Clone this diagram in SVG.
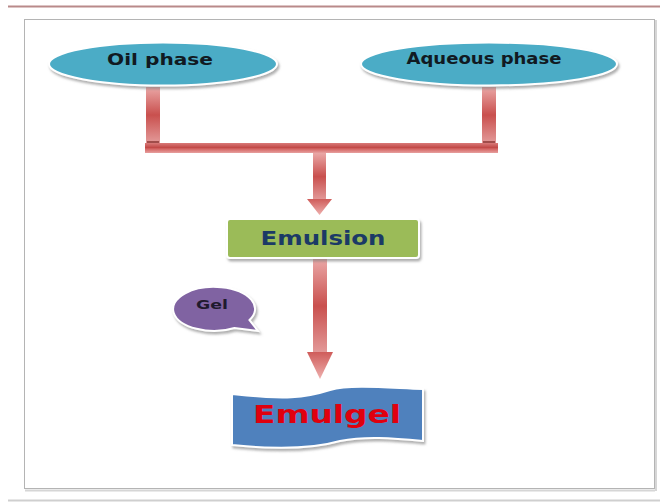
<svg xmlns="http://www.w3.org/2000/svg" width="660" height="504" viewBox="0 0 660 504">
<style>
  .lbl { font-family: "DejaVu Sans", "Liberation Sans", sans-serif; font-weight: bold; text-anchor: middle; }
  .shape { stroke: #ffffff; stroke-width: 2; filter: url(#sh); }
  .bar { fill: url(#barV); }
</style>
<defs>
  <filter id="sh" x="-20%" y="-30%" width="140%" height="170%">
    <feDropShadow dx="1.5" dy="2.5" stdDeviation="1.2" flood-color="#7a7a7a" flood-opacity="0.6"/>
  </filter>
  <linearGradient id="barV" x1="0" y1="0" x2="0" y2="1">
    <stop offset="0" stop-color="#eaa7a6"/>
    <stop offset="0.5" stop-color="#c9504e"/>
    <stop offset="1" stop-color="#e39a99"/>
  </linearGradient>
  <linearGradient id="barH" x1="0" y1="0" x2="0" y2="1">
    <stop offset="0" stop-color="#d97a79"/>
    <stop offset="0.45" stop-color="#c24a48"/>
    <stop offset="0.6" stop-color="#d46664"/>
    <stop offset="1" stop-color="#e7a09f"/>
  </linearGradient>
  <linearGradient id="head" x1="0" y1="0" x2="0" y2="1">
    <stop offset="0" stop-color="#cf5c5a"/>
    <stop offset="1" stop-color="#eeb0ae"/>
  </linearGradient>
</defs>

<!-- page frame -->
<line x1="8" y1="6.5" x2="660" y2="6.5" stroke="#b98a8a" stroke-width="2"/>
<rect x="24.5" y="19.5" width="630" height="469" fill="#ffffff" stroke="#b4b4b4" stroke-width="1"/>
<line x1="25" y1="490.5" x2="655" y2="490.5" stroke="#d6d6d6" stroke-width="2"/>
<line x1="656" y1="20" x2="656" y2="491" stroke="#d6d6d6" stroke-width="2"/>
<line x1="8" y1="500.5" x2="660" y2="500.5" stroke="#cfcfcf" stroke-width="2"/>

<!-- connectors -->
<g id="connectors">
  <rect class="bar" x="146" y="87" width="14" height="56"/>
  <rect class="bar" x="482" y="87" width="14" height="56"/>
  <line x1="147" y1="142" x2="159" y2="142" stroke="#8a3432" stroke-width="1.5"/>
  <line x1="483" y1="142" x2="495" y2="142" stroke="#8a3432" stroke-width="1.5"/>
  <rect x="145" y="143" width="353" height="10" fill="url(#barH)"/>
  <rect class="bar" x="313" y="153" width="13" height="47"/>
  <polygon points="307,199 332,199 319.5,215" fill="url(#head)"/>
  <rect class="bar" x="313" y="259" width="14" height="94"/>
  <polygon points="307,352 333,352 320,379" fill="url(#head)"/>
</g>

<g id="oil-phase">
  <ellipse class="shape" cx="163" cy="64" rx="114" ry="21.5" fill="#4bacc6"/>
  <text class="lbl" x="160" y="65" font-size="16" textLength="106" lengthAdjust="spacingAndGlyphs" fill="#111a22">Oil phase</text>
</g>

<g id="aqueous-phase">
  <ellipse class="shape" cx="489" cy="64" rx="128" ry="21.5" fill="#4bacc6"/>
  <text class="lbl" x="484" y="64" font-size="15" textLength="155" lengthAdjust="spacingAndGlyphs" fill="#111a22">Aqueous phase</text>
</g>

<g id="emulsion">
  <rect class="shape" x="227" y="219" width="192" height="39" rx="3" fill="#9bbb59"/>
  <text class="lbl" x="323" y="245" font-size="19" textLength="125" lengthAdjust="spacingAndGlyphs" fill="#1b3a66">Emulsion</text>
</g>

<g id="gel">
  <path class="shape" d="M249.5,320 A41,22 0 1 0 234.5,328 L258,331 Z" fill="#8064a2"/>
  <text class="lbl" x="212" y="309" font-size="12.5" textLength="32" lengthAdjust="spacingAndGlyphs" fill="#1f1a2e">Gel</text>
</g>

<g id="emulgel">
  <path class="shape" d="M232,394 C 285,400 305,398 330,390 C 352,384 390,388 423,389 L423,441 C 392,438 365,436 340,441 C 312,449 270,449 232,445 Z" fill="#4f81bd"/>
  <text class="lbl" x="327" y="423" font-size="24" textLength="148" lengthAdjust="spacingAndGlyphs" fill="#e0000e">Emulgel</text>
</g>
</svg>
